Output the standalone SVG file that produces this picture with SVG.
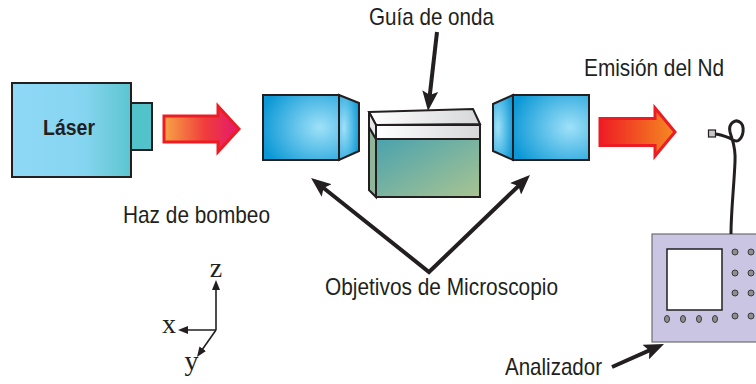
<svg xmlns="http://www.w3.org/2000/svg" width="756" height="384" viewBox="0 0 756 384">
  <defs>
    <linearGradient id="laserFill" x1="0" y1="0" x2="1" y2="0">
      <stop offset="0" stop-color="#8fd9f6"/>
      <stop offset="0.6" stop-color="#86d5f0"/>
      <stop offset="1" stop-color="#5cc5cf"/>
    </linearGradient>
    <radialGradient id="lensFill" cx="0.75" cy="0.5" r="0.8">
      <stop offset="0" stop-color="#9fe1f9"/>
      <stop offset="1" stop-color="#0b98d6"/>
    </radialGradient>
    <radialGradient id="lensFillR" cx="0.25" cy="0.5" r="0.8">
      <stop offset="0" stop-color="#9fe1f9"/>
      <stop offset="1" stop-color="#0b98d6"/>
    </radialGradient>
    <linearGradient id="guideFill" x1="0" y1="0" x2="1" y2="1">
      <stop offset="0" stop-color="#4aa2ae"/>
      <stop offset="1" stop-color="#a9c492"/>
    </linearGradient>
    <linearGradient id="slabFill" x1="0" y1="0" x2="1" y2="0">
      <stop offset="0" stop-color="#ffffff"/>
      <stop offset="1" stop-color="#d6d7d9"/>
    </linearGradient>
    <linearGradient id="pumpFill" x1="0" y1="0" x2="1" y2="0">
      <stop offset="0" stop-color="#f7a444"/>
      <stop offset="0.55" stop-color="#ef3c3c"/>
      <stop offset="1" stop-color="#e4186e"/>
    </linearGradient>
    <linearGradient id="emitFill" x1="0" y1="0" x2="1" y2="0">
      <stop offset="0" stop-color="#ee1c24"/>
      <stop offset="1" stop-color="#f58a22"/>
    </linearGradient>
    <marker id="head" viewBox="0 0 20 16" markerWidth="20" markerHeight="16" refX="12" refY="8" orient="auto-start-reverse" markerUnits="userSpaceOnUse">
      <path d="M0,0 L20,8 L0,16 L4,8 Z" fill="#231f20"/>
    </marker>
    <marker id="axisHead" viewBox="0 0 10 8" markerWidth="10" markerHeight="8" refX="6" refY="4" orient="auto" markerUnits="userSpaceOnUse">
      <path d="M0,0 L10,4 L0,8 Z" fill="#231f20"/>
    </marker>
  </defs>
  <style>
    .label { font-family: "Liberation Sans", Arial, sans-serif; font-size: 24px; fill: #231f20; }
    .axis { font-family: "Liberation Serif", "Times New Roman", serif; font-size: 28px; fill: #231f20; text-anchor: middle; }
    .edge { stroke: #231f20; stroke-linejoin: miter; }
    .conn { fill: none; stroke: #231f20; stroke-width: 4; }
    .knob { fill: #8e8e90; stroke: #3a3a3c; stroke-width: 1; }
  </style>

  <rect width="756" height="384" fill="#ffffff"/>

  <!-- pump laser -->
  <g id="laser">
    <rect x="12" y="83" width="119" height="94" fill="url(#laserFill)" class="edge" stroke-width="2"/>
    <rect x="131" y="103" width="21" height="47" fill="#52c3ca" class="edge" stroke-width="2"/>
    <text x="43" y="135" font-family="'Liberation Sans', Arial, sans-serif" font-weight="bold" font-size="22" fill="#231f20" textLength="52" lengthAdjust="spacingAndGlyphs">Láser</text>
  </g>

  <!-- pump beam -->
  <g id="pump-beam">
    <path d="M164,116 L218,116 L218,106 L239,129 L218,152 L218,142 L164,142 Z" fill="url(#pumpFill)" stroke="#ed1c24" stroke-width="3"/>
  </g>

  <!-- input objective -->
  <g id="objective-in">
    <rect x="263" y="95" width="76" height="65" fill="url(#lensFill)" class="edge" stroke-width="2"/>
    <polygon points="339,95 359,103 359,151 339,160" fill="url(#lensFillR)" class="edge" stroke-width="2"/>
  </g>

  <!-- waveguide -->
  <g id="waveguide">
    <polygon points="369,127 376,139 376,197 369,190" fill="#8fb59a" class="edge" stroke-width="2"/>
    <rect x="376" y="139" width="104" height="58" fill="url(#guideFill)" class="edge" stroke-width="2"/>
    <polygon points="369,112 473,109 480,124 376,125" fill="url(#slabFill)" class="edge" stroke-width="2"/>
    <polygon points="369,112 376,125 376,139 369,127" fill="#e6e7e8" class="edge" stroke-width="2"/>
    <rect x="376" y="125" width="104" height="14" fill="url(#slabFill)" class="edge" stroke-width="2"/>
  </g>

  <!-- output objective -->
  <g id="objective-out">
    <polygon points="513,95 493,104 493,151 513,160" fill="url(#lensFillR)" class="edge" stroke-width="2"/>
    <rect x="513" y="95" width="76" height="65" fill="url(#lensFill)" class="edge" stroke-width="2"/>
  </g>

  <!-- emitted beam -->
  <g id="emission-beam">
    <path d="M600,118.5 L655,118.5 L655,108 L675,132 L655,156 L655,145.5 L600,145.5 Z" fill="url(#emitFill)" stroke="#ed1c24" stroke-width="3"/>
  </g>

  <!-- analyzer -->
  <g id="analyzer">
    <rect x="652" y="234" width="110" height="108" fill="#c9c5e2" stroke="#6d6e71" stroke-width="1.2"/>
    <rect x="667" y="249" width="55" height="61" fill="#ffffff" stroke="#231f20" stroke-width="1.5"/>
    <ellipse class="knob" cx="667" cy="319" rx="2.5" ry="3.5"/>
    <ellipse class="knob" cx="683" cy="319" rx="2.5" ry="3.5"/>
    <ellipse class="knob" cx="699" cy="319" rx="2.5" ry="3.5"/>
    <ellipse class="knob" cx="715" cy="319" rx="2.5" ry="3.5"/>
    <ellipse class="knob" cx="735" cy="252" rx="3" ry="3"/>
    <ellipse class="knob" cx="751" cy="252" rx="3" ry="3"/>
    <ellipse class="knob" cx="735" cy="273" rx="3" ry="3"/>
    <ellipse class="knob" cx="751" cy="273" rx="3" ry="3"/>
    <ellipse class="knob" cx="735" cy="293" rx="3" ry="3"/>
    <ellipse class="knob" cx="751" cy="293" rx="3" ry="3"/>
    <ellipse class="knob" cx="735" cy="316" rx="3" ry="3"/>
    <ellipse class="knob" cx="751" cy="316" rx="3" ry="3"/>
  </g>

  <!-- fibre probe -->
  <g id="fiber">
    <path d="M716,134 C722,135 728,137 733,140 C742,145 746,128 741,123 C736,118 728,123 730,132 C732,140 736,146 735,162 C734,186 731,212 731,234" fill="none" stroke="#231f20" stroke-width="3"/>
    <rect x="708.5" y="130" width="7" height="7" fill="#c8c8ca" stroke="#231f20" stroke-width="1.2"/>
  </g>

  <!-- coordinate axes -->
  <g id="axes" stroke="#231f20" stroke-width="1.6">
    <line x1="216" y1="330" x2="216" y2="284" marker-end="url(#axisHead)"/>
    <line x1="216" y1="330" x2="182" y2="330" marker-end="url(#axisHead)"/>
    <line x1="216" y1="330" x2="199.3" y2="353.7" marker-end="url(#axisHead)"/>
  </g>
  <text class="axis" x="216" y="277">z</text>
  <text class="axis" x="169" y="333">x</text>
  <text class="axis" x="191.5" y="370">y</text>

  <!-- pointer arrows -->
  <g id="connectors">
    <path class="conn" d="M437,32 L428.9,103" marker-end="url(#head)"/>
    <path class="conn" d="M317.3,183 L429,272 L524.2,180.5" marker-start="url(#head)" marker-end="url(#head)"/>
    <path class="conn" d="M612,367 L656.7,347.2" marker-end="url(#head)"/>
  </g>

  <!-- labels -->
  <g id="labels">
    <text class="label" x="369" y="25" textLength="125" lengthAdjust="spacingAndGlyphs">Guía de onda</text>
    <text class="label" x="584" y="76" textLength="140" lengthAdjust="spacingAndGlyphs">Emisión del Nd</text>
    <text class="label" x="123" y="223" textLength="147" lengthAdjust="spacingAndGlyphs">Haz de bombeo</text>
    <text class="label" x="325" y="295" textLength="233" lengthAdjust="spacingAndGlyphs">Objetivos de Microscopio</text>
    <text class="label" x="505" y="375" textLength="97" lengthAdjust="spacingAndGlyphs">Analizador</text>
  </g>
</svg>
